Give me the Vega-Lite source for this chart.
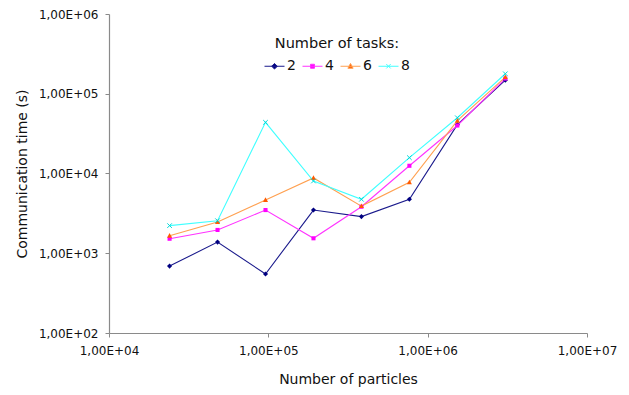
{
  "$schema": "https://vega.github.io/schema/vega-lite/v6.json",
  "width": 478,
  "height": 319,
  "autosize": "none",
  "padding": {"left": 109, "top": 14, "right": 42, "bottom": 62},
  "background": "white",
  "config": {
    "view": {"stroke": null},
    "font": "DejaVu Sans",
    "axis": {
      "grid": false,
      "domainColor": "#8a8a8a",
      "domainWidth": 1.2,
      "tickColor": "#8a8a8a",
      "tickSize": 4,
      "labelFont": "DejaVu Sans",
      "labelFontSize": 12,
      "labelColor": "#111",
      "titleFont": "DejaVu Sans",
      "titleFontSize": 14,
      "titleFontWeight": "normal",
      "titleColor": "#111"
    }
  },
  "data": {
    "values": [
      {"particles": 24000, "tasks": "2", "time": 690},
      {"particles": 48000, "tasks": "2", "time": 1380},
      {"particles": 96000, "tasks": "2", "time": 550},
      {"particles": 192000, "tasks": "2", "time": 3480},
      {"particles": 384000, "tasks": "2", "time": 2880},
      {"particles": 768000, "tasks": "2", "time": 4750},
      {"particles": 1536000, "tasks": "2", "time": 41000},
      {"particles": 3072000, "tasks": "2", "time": 148000},
      {"particles": 24000, "tasks": "4", "time": 1520},
      {"particles": 48000, "tasks": "4", "time": 1960},
      {"particles": 96000, "tasks": "4", "time": 3480},
      {"particles": 192000, "tasks": "4", "time": 1540},
      {"particles": 384000, "tasks": "4", "time": 3830},
      {"particles": 768000, "tasks": "4", "time": 12500},
      {"particles": 1536000, "tasks": "4", "time": 40000},
      {"particles": 3072000, "tasks": "4", "time": 155000},
      {"particles": 24000, "tasks": "6", "time": 1660},
      {"particles": 48000, "tasks": "6", "time": 2460},
      {"particles": 96000, "tasks": "6", "time": 4650},
      {"particles": 192000, "tasks": "6", "time": 8800},
      {"particles": 384000, "tasks": "6", "time": 3900},
      {"particles": 768000, "tasks": "6", "time": 7750},
      {"particles": 1536000, "tasks": "6", "time": 46000},
      {"particles": 3072000, "tasks": "6", "time": 162000},
      {"particles": 24000, "tasks": "8", "time": 2220},
      {"particles": 48000, "tasks": "8", "time": 2560},
      {"particles": 96000, "tasks": "8", "time": 43800},
      {"particles": 192000, "tasks": "8", "time": 8050},
      {"particles": 384000, "tasks": "8", "time": 4750},
      {"particles": 768000, "tasks": "8", "time": 15800},
      {"particles": 1536000, "tasks": "8", "time": 50000},
      {"particles": 3072000, "tasks": "8", "time": 178000}
    ]
  },
  "encoding": {
    "x": {
      "field": "particles",
      "type": "quantitative",
      "scale": {"type": "log", "domain": [10000, 10000000], "nice": false},
      "axis": {
        "title": "Number of particles",
        "values": [10000, 100000, 1000000, 10000000],
        "labelExpr": "'1,00E+0' + round(log(datum.value) / LN10)",
        "labelPadding": 8,
        "titlePadding": 16,
        "labelFlush": false,
        "labelOverlap": false
      }
    },
    "y": {
      "field": "time",
      "type": "quantitative",
      "scale": {"type": "log", "domain": [100, 1000000], "nice": false},
      "axis": {
        "title": "Communication time (s)",
        "values": [100, 1000, 10000, 100000, 1000000],
        "labelExpr": "'1,00E+0' + round(log(datum.value) / LN10)",
        "labelPadding": 7,
        "titlePadding": 9,
        "labelFlush": false,
        "labelOverlap": false
      }
    }
  },
  "layer": [
    {
      "mark": {"type": "line", "strokeWidth": 1.1},
      "encoding": {
        "color": {
          "field": "tasks",
          "type": "nominal",
          "scale": {"domain": ["2", "4", "6", "8"], "range": ["#1a1a8c", "#ff33ff", "#ffa050", "#40ffff"]},
          "legend": {
            "title": "Number of tasks:",
            "orient": "none",
            "legendX": 155,
            "legendY": 23,
            "direction": "horizontal",
            "padding": 0,
            "titleAnchor": "middle",
            "titleFont": "DejaVu Sans",
            "titleFontSize": 14.5,
            "titleFontWeight": "normal",
            "titleColor": "#111",
            "titlePadding": 4,
            "labelFont": "DejaVu Sans",
            "labelFontSize": 14,
            "labelColor": "#111",
            "labelOffset": 2,
            "columnPadding": 4,
            "symbolSize": 400,
            "symbolStrokeWidth": 1,
            "encode": {
              "symbols": {
                "update": {
                  "shape": {"signal": "datum.value == '2' ? 'M-1,0L1,0M0,-0.28L0.28,0L0,0.28L-0.28,0Z' : datum.value == '4' ? 'M-1,0L1,0M-0.2,-0.2L0.2,-0.2L0.2,0.2L-0.2,0.2Z' : datum.value == '6' ? 'M-1,0L1,0M0,-0.28L0.26,0.2L-0.26,0.2Z' : 'M-1,0L1,0M-0.22,-0.22L0.22,0.22M-0.22,0.22L0.22,-0.22'"},
                  "fill": {"signal": "datum.value == '2' ? '#000080' : datum.value == '4' ? '#ff00ff' : datum.value == '6' ? '#ff5a00' : '#00e5e5'"},
                  "stroke": {"scale": "color", "field": "value"},
                  "opacity": {"value": 1}
                }
              }
            }
          }
        }
      }
    },
    {
      "transform": [{"filter": "datum.tasks == '2'"}],
      "mark": {"type": "point", "shape": "M0,-1L1,0L0,1L-1,0Z", "filled": true, "size": 26, "color": "#000080", "opacity": 1}
    },
    {
      "transform": [{"filter": "datum.tasks == '4'"}],
      "mark": {"type": "point", "shape": "M-0.8,-0.8L0.8,-0.8L0.8,0.8L-0.8,0.8Z", "filled": true, "size": 26, "color": "#ff00ff", "opacity": 1}
    },
    {
      "transform": [{"filter": "datum.tasks == '6'"}],
      "mark": {"type": "point", "shape": "M0,-1L0.95,0.75L-0.95,0.75Z", "filled": true, "size": 28, "color": "#ff5a00", "opacity": 1}
    },
    {
      "transform": [{"filter": "datum.tasks == '8'"}],
      "mark": {"type": "point", "shape": "M-0.9,-0.9L0.9,0.9M-0.9,0.9L0.9,-0.9", "filled": false, "size": 26, "color": "#00d8d8", "strokeWidth": 1, "opacity": 1}
    }
  ]
}
